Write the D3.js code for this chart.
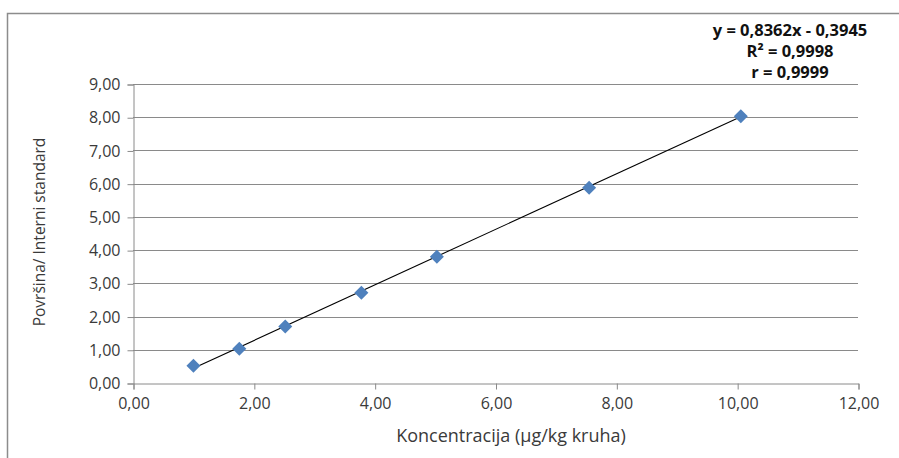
<!DOCTYPE html>
<html><head><meta charset="utf-8">
<script src="https://cdn.jsdelivr.net/npm/d3@7"></script>
<style>body{margin:0;background:#fff}svg{display:block}text{font-family:"Open Sans","Liberation Sans",sans-serif}</style>
</head><body>
<svg id="c" width="899" height="458"></svg>
<script>
const xValues = [1.00, 1.76, 2.52, 3.78, 5.03, 7.55, 10.06];
const yValues = [0.52, 1.03, 1.70, 2.72, 3.80, 5.88, 8.03];
const xTicks = [0, 2, 4, 6, 8, 10, 12];
const yTicks = [0, 1, 2, 3, 4, 5, 6, 7, 8, 9];
const slope = 0.8362, intercept = -0.3945;
const eqLines = ["y = 0,8362x - 0,3945", "R² = 0,9998", "r = 0,9999"];
const xTitle = "Koncentracija (µg/kg kruha)";
const yTitle = "Površina/ Interni standard";

const svg = d3.select("#c");
const fmt = v => d3.format(".2f")(v).replace(".", ",");
const x = d3.scaleLinear().domain([0, 12]).range([133, 858]);
const y = d3.scaleLinear().domain([0, 9]).range([383, 84]);

// frame
svg.append("path").attr("d", "M7.5,458 V13.5 H899").attr("fill", "none").attr("stroke", "#8c8c8c").attr("stroke-width", 1.5);

// gridlines
svg.append("g").selectAll("line").data(yTicks.slice(1)).join("line")
  .attr("x1", x(0)).attr("x2", x(12))
  .attr("y1", d => Math.round(y(d)) + 0.5).attr("y2", d => Math.round(y(d)) + 0.5)
  .attr("stroke", "#8a8a8a").attr("stroke-width", 1);

// axes
const yAxis = svg.append("g").attr("transform", `translate(${x(0) + 0.5},0.5)`)
  .call(d3.axisLeft(y).tickValues(yTicks).tickFormat(fmt).tickSize(6).tickPadding(7));
const xAxis = svg.append("g").attr("transform", `translate(0.5,${y(0) + 0.5})`)
  .call(d3.axisBottom(x).tickValues(xTicks).tickFormat(fmt).tickSize(6).tickPadding(6));
[yAxis, xAxis].forEach(g => {
  g.select(".domain").attr("stroke", "#8a8a8a");
  g.selectAll(".tick line").attr("stroke", "#8a8a8a");
  g.selectAll("text").attr("fill", "#3a3a3a").style("font-size", "16px").style("font-family", '"Open Sans","Liberation Sans",sans-serif');
});
xAxis.selectAll("text").attr("dy", "0.85em");

// trendline
const x0 = d3.min(xValues), x1 = d3.max(xValues);
svg.append("line")
  .attr("x1", x(x0)).attr("y1", y(slope * x0 + intercept))
  .attr("x2", x(x1)).attr("y2", y(slope * x1 + intercept))
  .attr("stroke", "#000").attr("stroke-width", 1.1);

// markers
svg.append("g").selectAll("path").data(xValues.map((v, i) => [v, yValues[i]])).join("path")
  .attr("transform", d => `translate(${x(d[0])},${y(d[1])})`)
  .attr("d", "M0,-7 L7,0 L0,7 L-7,0 Z")
  .attr("fill", "#4f81bd");

// titles
svg.append("text").attr("x", 511).attr("y", 442).attr("text-anchor", "middle")
  .attr("fill", "#3a3a3a").style("font-size", "18px").text(xTitle);
svg.append("text").attr("transform", "translate(45,232) rotate(-90)").attr("text-anchor", "middle")
  .attr("fill", "#3a3a3a").style("font-size", "15.5px").text(yTitle);

// equation
svg.append("g").selectAll("text").data(eqLines).join("text")
  .attr("x", 790).attr("y", (d, i) => 36 + i * 21).attr("text-anchor", "middle")
  .attr("fill", "#111").style("font-size", "16.5px").style("font-weight", "bold").text(d => d);
</script>
</body></html>
